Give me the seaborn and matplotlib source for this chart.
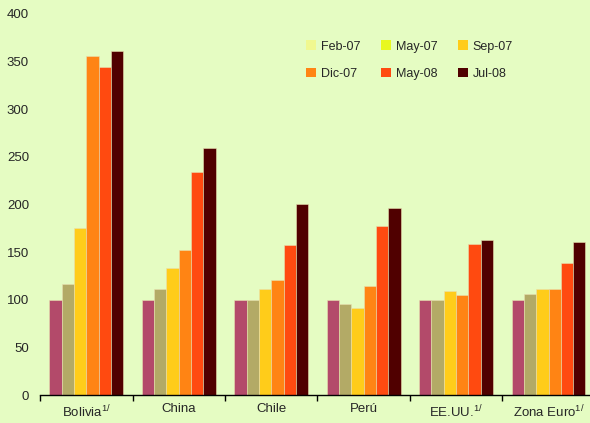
import numpy as np
import pandas as pd
import matplotlib.pyplot as plt
import seaborn as sns
from matplotlib.patches import Patch

countries = ["Bolivia$^{1/}$", "China", "Chile", "Perú", "EE.UU.$^{1/}$", "Zona Euro$^{1/}$"]
periods = ["Feb-07", "May-07", "Sep-07", "Dic-07", "May-08", "Jul-08"]

feb07 = [100, 100, 100, 100, 100, 100]
may07 = [117, 111, 100, 96, 100, 106]
sep07 = [175, 133, 111, 91, 109, 111]
dic07 = [356, 152, 121, 114, 105, 111]
may08 = [344, 234, 158, 177, 159, 139]
jul08 = [361, 259, 201, 196, 163, 161]

bar_colors = ["#B34A6A", "#B3AA66", "#FFCC1A", "#FF8414", "#FF4A10", "#500000"]
legend_colors = ["#F0F890", "#E8F820", "#FFCC1A", "#FF8414", "#FF4A10", "#500000"]
BG = "#E5FCC2"

series = [feb07, may07, sep07, dic07, may08, jul08]
rows = []
for p, vals in zip(periods, series):
    for c, v in zip(countries, vals):
        rows.append({"pais": c, "periodo": p, "valor": v})
df = pd.DataFrame(rows)

sns.set_theme(style="white")
plt.rcParams["font.family"] = ["Liberation Sans", "DejaVu Sans"]
plt.rcParams["mathtext.fontset"] = "custom"
plt.rcParams["mathtext.rm"] = "Liberation Sans"
plt.rcParams["mathtext.it"] = "Liberation Sans"

fig = plt.figure(figsize=(5.9, 4.23), dpi=100, facecolor=BG)
ax = fig.add_axes([0.068, 0.066, 0.94, 0.901])
ax.set_facecolor(BG)

sns.barplot(data=df, x="pais", y="valor", hue="periodo", order=countries,
            hue_order=periods, palette=bar_colors, saturation=1, width=0.8, ax=ax,
            edgecolor="#E8E0B0", linewidth=0.4, legend=False)

ax.set_ylim(0, 400)
ax.set_xlim(-0.5, len(countries) - 0.5)
ax.set_yticks(np.arange(0, 401, 50))
ax.set_xlabel("")
ax.set_ylabel("")

ax.set_xticks(np.arange(-0.5, len(countries), 1.0))
ax.set_xticklabels([])
ax.set_xticks(np.arange(len(countries)), minor=True)
ax.set_xticklabels(countries, minor=True)
ax.tick_params(axis="x", which="major", direction="out", length=4, width=1, color="black", bottom=True)
ax.tick_params(axis="x", which="minor", length=0, labelsize=9.5, pad=6)
ax.tick_params(axis="y", length=0, labelsize=9.5, pad=8)

for s in ["top", "right", "left"]:
    ax.spines[s].set_visible(False)
ax.spines["bottom"].set_color("black")
ax.spines["bottom"].set_linewidth(1)

# legend fills column-wise, reorder so rows read Feb/May/Sep then Dic/May/Jul
order = [0, 3, 1, 4, 2, 5]
handles = [Patch(facecolor=legend_colors[i], edgecolor="none") for i in order]
labels = [periods[i] for i in order]
ax.legend(handles, labels, ncol=3, frameon=False, fontsize=9,
          loc="upper left", bbox_to_anchor=(0.46, 0.96),
          handlelength=0.8, handleheight=0.8, handletextpad=0.4,
          columnspacing=1.6, labelspacing=1.2)

fig.savefig("out.png", dpi=100, facecolor=BG)
